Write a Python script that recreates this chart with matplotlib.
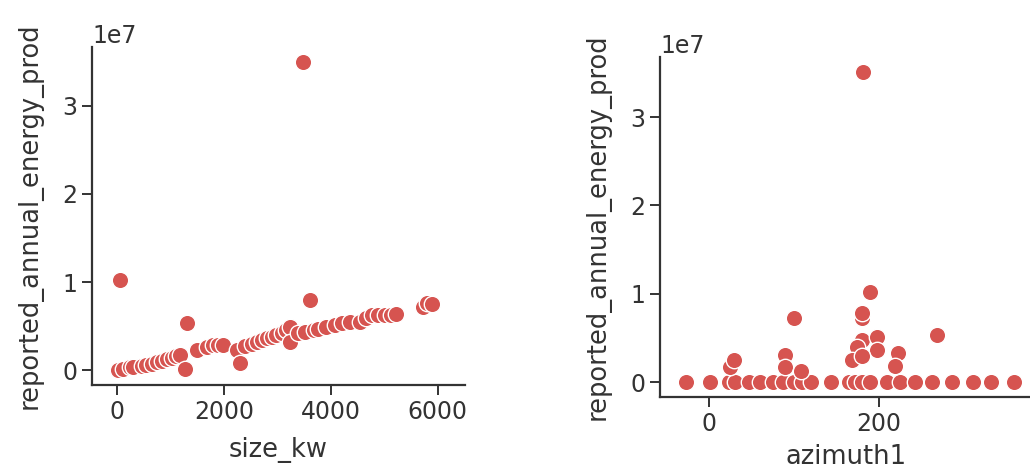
import numpy as np
import matplotlib
matplotlib.use("Agg")
import matplotlib.pyplot as plt
import seaborn as sns

# ---- data ----
size_kw = [25, 56, 120, 243, 300, 461, 550, 648, 740, 835, 930, 1022, 1100, 1178, 1271, 1302,
           1489, 1676, 1800, 1890, 1987, 2237, 2299, 2400, 2518, 2610, 2704, 2800, 2891, 2980,
           3078, 3160, 3234, 3234, 3380, 3477, 3514, 3607, 3680, 3763, 3900, 4075, 4200, 4355,
           4542, 4650, 4760, 4880, 5009, 5120, 5227, 5727, 5789, 5900]
energy_size = [0.00, 1.02, 0.01, 0.03, 0.04, 0.045, 0.06, 0.07, 0.09, 0.10, 0.12, 0.14, 0.16, 0.17,
               0.01, 0.54, 0.23, 0.26, 0.28, 0.28, 0.28, 0.23, 0.08, 0.27, 0.30, 0.32, 0.34, 0.36,
               0.37, 0.40, 0.42, 0.45, 0.49, 0.32, 0.42, 3.50, 0.435, 0.80, 0.45, 0.47, 0.49, 0.51,
               0.53, 0.55, 0.55, 0.59, 0.625, 0.62, 0.625, 0.63, 0.64, 0.72, 0.76, 0.75]

azimuth1 = [-27, 1, 23, 30, 47, 60, 75, 87, 100, 110, 120, 144, 165, 172, 180, 190, 210, 225, 243,
            263, 287, 311, 333, 360,
            25, 29, 89, 89, 100, 108, 180, 180, 180, 182, 190, 198, 198, 175, 168, 180,
            223, 219, 269]
energy_az = [0, 0, 0, 0, 0, 0, 0, 0, 0, 0, 0, 0, 0, 0, 0, 0, 0, 0, 0,
             0, 0, 0, 0, 0,
             0.17, 0.25, 0.31, 0.17, 0.72, 0.12, 0.72, 0.78, 0.48, 3.51, 1.02, 0.51, 0.36, 0.40,
             0.25, 0.30, 0.33, 0.18, 0.53]

energy_size = np.array(energy_size) * 1e7
energy_az = np.array(energy_az) * 1e7

sns.set_style("ticks")
plt.rcParams["font.family"] = ["DejaVu Sans"]
plt.rcParams["font.size"] = 17

RED = "#d65450"
TXT = "#333333"

fig = plt.figure(figsize=(10.30, 4.71), dpi=100)
ax1 = fig.add_axes([0.0893, 0.1826, 0.362, 0.7176])
ax2 = fig.add_axes([0.6408, 0.157, 0.362, 0.722])

ax1.scatter(size_kw, energy_size, s=140, color=RED, edgecolor="white", linewidth=1)
ax1.set_xlim(-467, 6505)
ax1.set_ylim(-0.17e7, 3.67e7)
ax1.set_xticks([0, 2000, 4000, 6000])
ax1.set_yticks([0, 1e7, 2e7, 3e7])
ax1.set_xlabel("size_kw", color=TXT, fontsize=18.5, labelpad=10)

ax2.scatter(azimuth1, energy_az, s=140, color=RED, edgecolor="white", linewidth=1)
ax2.set_xlim(-58, 382)
ax2.set_ylim(-0.17e7, 3.68e7)
ax2.set_xticks([0, 200])
ax2.set_yticks([0, 1e7, 2e7, 3e7])
ax2.set_xlabel("azimuth1", color=TXT, fontsize=18.5, labelpad=6)

for ax in (ax1, ax2):
    ax.set_ylabel("reported_annual_energy_prod", color=TXT, fontsize=18.5, labelpad=14)
    for side in ("top", "right"):
        ax.spines[side].set_visible(False)
    for side in ("left", "bottom"):
        ax.spines[side].set_linewidth(1.6)
        ax.spines[side].set_color(TXT)
    ax.tick_params(length=7, width=1.4, colors=TXT, labelsize=17)
    ax.yaxis.get_offset_text().set_fontsize(17)
    ax.yaxis.get_offset_text().set_color(TXT)

fig.savefig("out.png", dpi=100)
